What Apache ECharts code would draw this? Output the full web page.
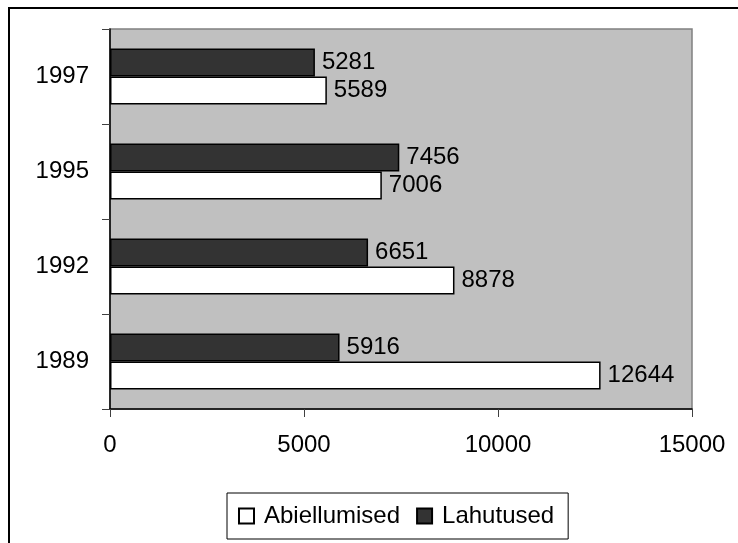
<!DOCTYPE html>
<html>
<head>
<meta charset="utf-8">
<script src="https://cdn.jsdelivr.net/npm/echarts@6/dist/echarts.min.js"></script>
<style>
  html, body { margin: 0; padding: 0; background: #fff; }
  #chart { width: 738px; height: 543px; }
</style>
</head>
<body>
<div id="chart"></div>
<script>
var years = ['1989', '1992', '1995', '1997'];
var abiellumised = [12644, 8878, 7006, 5589];
var lahutused = [5916, 6651, 7456, 5281];

var font = 'Liberation Sans, Arial, sans-serif';

var chart = echarts.init(document.getElementById('chart'));
var option = {
    animation: false,
    backgroundColor: '#fff',
    textStyle: { fontFamily: font },
    graphic: [{
        type: 'rect',
        shape: { x: 9, y: 8, width: 740, height: 545 },
        style: { fill: 'none', stroke: '#000', lineWidth: 2 },
        silent: true
    }],
    grid: {
        left: 110, top: 29, right: 46, bottom: 134,
        show: true,
        backgroundColor: '#c0c0c0',
        borderColor: '#808080',
        borderWidth: 1.5
    },
    legend: {
        left: 227, top: 493,
        padding: [11, 14, 11, 11],
        borderColor: '#000',
        borderWidth: 1,
        itemWidth: 15,
        itemHeight: 15,
        itemGap: 16,
        icon: 'rect',
        textStyle: { fontFamily: font, fontSize: 24, color: '#000', lineHeight: 24, padding: [0, 0, 0, 5] },
        data: ['Abiellumised', 'Lahutused']
    },
    xAxis: {
        type: 'value',
        min: 0, max: 15000, interval: 5000,
        splitLine: { show: false },
        axisLine: { show: true, lineStyle: { color: '#000', width: 1.5 } },
        axisTick: { show: true, length: 8, lineStyle: { color: '#404040' } },
        axisLabel: {
            fontFamily: font, fontSize: 24, color: '#000', margin: 24,
            formatter: function (v) { return String(v); }
        }
    },
    yAxis: {
        type: 'category',
        data: years,
        axisLine: { show: true, lineStyle: { color: '#000', width: 1.5 } },
        axisTick: { show: true, length: 8, lineStyle: { color: '#404040' } },
        axisLabel: { fontFamily: font, fontSize: 24, color: '#000', margin: 21 }
    },
    series: [
        {
            name: 'Lahutused',
            type: 'bar',
            data: lahutused,
            barWidth: 28,
            barGap: '0%',
            itemStyle: { color: '#333333', borderColor: '#000', borderWidth: 1.5 },
            label: { show: true, position: 'right', distance: 7, fontFamily: font, fontSize: 24, color: '#000' }
        },
        {
            name: 'Abiellumised',
            type: 'bar',
            data: abiellumised,
            barWidth: 28,
            barGap: '0%',
            itemStyle: { color: '#fff', borderColor: '#000', borderWidth: 1.5 },
            label: { show: true, position: 'right', distance: 7, fontFamily: font, fontSize: 24, color: '#000' }
        }
    ]
};
chart.setOption(option);
</script>
</body>
</html>
